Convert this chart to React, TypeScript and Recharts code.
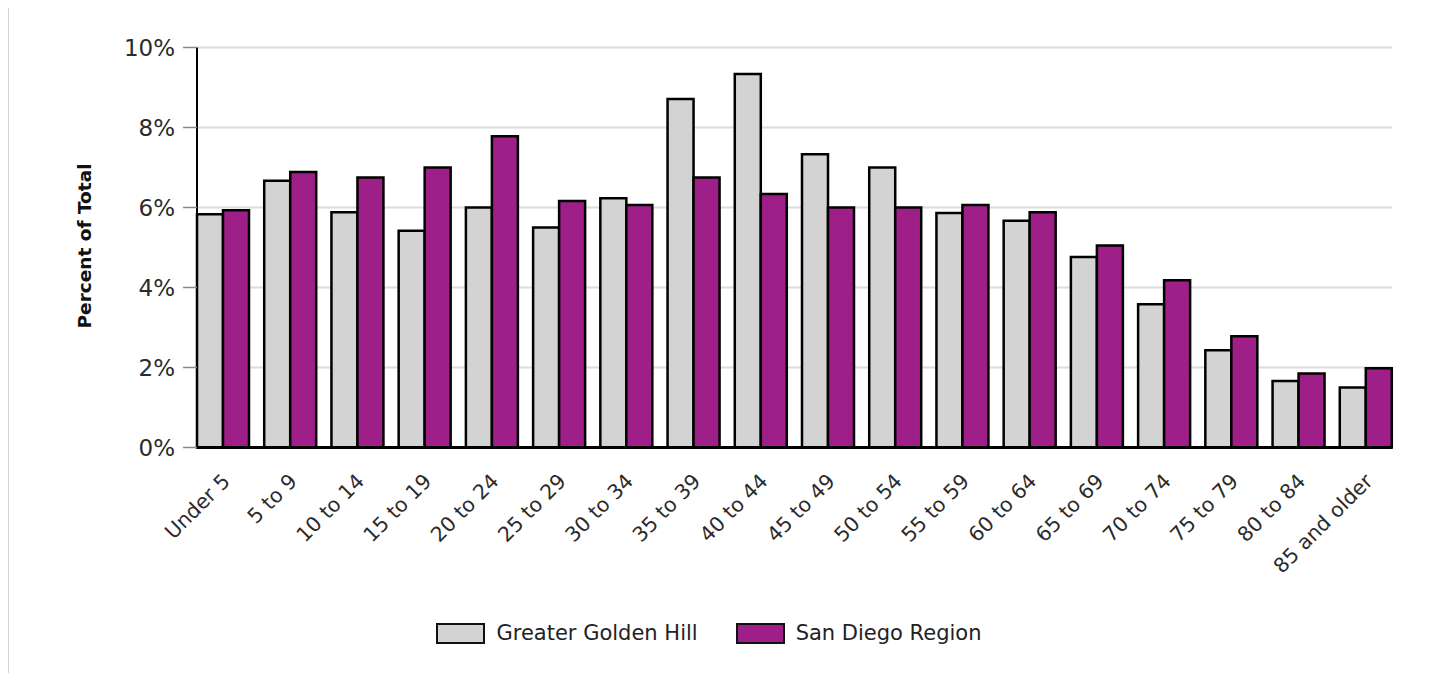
import React from "react";
import { BarChart, Bar, XAxis, YAxis, CartesianGrid, Legend } from "recharts";

const ageGroups = [
  "Under 5", "5 to 9", "10 to 14", "15 to 19", "20 to 24", "25 to 29",
  "30 to 34", "35 to 39", "40 to 44", "45 to 49", "50 to 54", "55 to 59",
  "60 to 64", "65 to 69", "70 to 74", "75 to 79", "80 to 84", "85 and older",
];

const goldenHill = [
  5.83, 6.67, 5.88, 5.42, 6.0, 5.5, 6.23, 8.71, 9.34,
  7.33, 7.0, 5.86, 5.67, 4.76, 3.58, 2.43, 1.66, 1.5,
];

const sanDiego = [
  5.93, 6.89, 6.75, 7.0, 7.78, 6.16, 6.06, 6.75, 6.34,
  6.0, 6.0, 6.06, 5.88, 5.05, 4.18, 2.78, 1.85, 1.98,
];

const yTicks = [0, 2, 4, 6, 8, 10];
const seriesNames = ["Greater Golden Hill", "San Diego Region"];

const GREY = "#d3d3d3";
const PURPLE = "#9e1f88";
const FONT = "'DejaVu Sans', sans-serif";

const data = ageGroups.map((age, i) => ({
  age,
  goldenHill: goldenHill[i],
  sanDiego: sanDiego[i],
}));

// rotated category labels, anchored at their end just right of the group centre
const AgeTick = ({ x, y, payload }: any) => {
  const ex = x + 8;
  const ey = y + 27;
  return (
    <text
      x={ex}
      y={ey}
      transform={`rotate(-45 ${ex} ${ey})`}
      textAnchor="end"
      fontFamily={FONT}
      fontSize={20.5}
      fill="#2b2b2b"
    >
      {payload.value}
    </text>
  );
};

const YLabel = () => (
  <text
    x={75}
    y={239}
    transform="rotate(-90 75 239)"
    textAnchor="middle"
    dominantBaseline="central"
    fontFamily={FONT}
    fontWeight="bold"
    fontSize={18.5}
    fill="#111"
  >
    Percent of Total
  </text>
);

const LegendContent = () => (
  <div
    style={{
      display: "flex",
      justifyContent: "center",
      gap: 38,
      fontFamily: FONT,
      fontSize: 21,
      color: "#222",
    }}
  >
    {seriesNames.map((name, i) => (
      <div key={name} style={{ display: "flex", alignItems: "center" }}>
        <span
          style={{
            display: "inline-block",
            width: 45,
            height: 17,
            background: i === 0 ? GREY : PURPLE,
            border: "2px solid #111",
            marginRight: 11,
          }}
        />
        {name}
      </div>
    ))}
  </div>
);

export default function App() {
  return (
    <div
      style={{
        width: 1425,
        height: 666,
        border: "1.5px solid #d2d2d2",
        marginTop: -2,
        position: "relative",
      }}
    >
      <BarChart
        width={1424}
        height={665}
        data={data}
        margin={{ top: 40.5, right: 41, left: 0, bottom: 50.5 }}
        barCategoryGap={7.5}
        barGap={0}
      >
        <CartesianGrid vertical={false} stroke="#dcdcdc" strokeWidth={2} />
        <XAxis
          dataKey="age"
          height={150}
          padding={{ left: -7.5, right: -7.5 }}
          axisLine={{ stroke: "#000", strokeWidth: 3 }}
          tickLine={false}
          interval={0}
          tick={<AgeTick />}
        />
        <YAxis
          width={188}
          domain={[0, 10]}
          ticks={yTicks}
          tickFormatter={(v) => `${v}%`}
          axisLine={{ stroke: "#000", strokeWidth: 2 }}
          tickLine={{ stroke: "#888", strokeWidth: 1.5 }}
          tickSize={14}
          tickMargin={8}
          tick={{ fontFamily: FONT, fontSize: 23, fill: "#2b2b2b" }}
          label={<YLabel />}
        />
        <Legend
          verticalAlign="bottom"
          content={<LegendContent />}
          wrapperStyle={{ top: 614, bottom: "auto", left: -12, width: 1424 }}
        />
        <Bar
          dataKey="goldenHill"
          name={seriesNames[0]}
          fill={GREY}
          stroke="#000"
          strokeWidth={2.5}
          isAnimationActive={false}
        />
        <Bar
          dataKey="sanDiego"
          name={seriesNames[1]}
          fill={PURPLE}
          stroke="#000"
          strokeWidth={2.5}
          isAnimationActive={false}
        />
      </BarChart>
    </div>
  );
}
